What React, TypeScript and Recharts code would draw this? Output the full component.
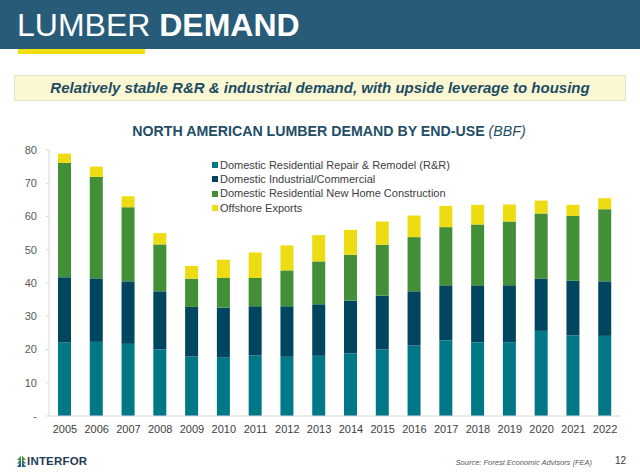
import React from 'react';
import { BarChart, Bar, XAxis, YAxis } from 'recharts';

const years = ['2005', '2006', '2007', '2008', '2009', '2010', '2011', '2012', '2013', '2014', '2015', '2016', '2017', '2018', '2019', '2020', '2021', '2022'];
const repairRemodel = [22.1, 22.3, 21.7, 20.0, 17.9, 17.7, 18.2, 17.8, 18.1, 18.8, 20.0, 21.2, 22.8, 22.2, 22.2, 25.6, 24.3, 24.1];
const industrial = [19.6, 19.1, 18.8, 17.5, 14.9, 14.9, 14.8, 15.2, 15.5, 15.9, 16.2, 16.3, 16.5, 17.1, 17.1, 15.7, 16.4, 16.4];
const newHome = [34.4, 30.5, 22.3, 14.1, 8.5, 8.9, 8.5, 10.8, 12.9, 13.8, 15.3, 16.3, 17.5, 18.3, 19.2, 19.6, 19.5, 21.7];
const exportsOffshore = [2.8, 3.1, 3.3, 3.4, 3.8, 5.5, 7.7, 7.5, 7.9, 7.5, 7.0, 6.5, 6.4, 5.9, 5.1, 3.9, 3.3, 3.3];
const yTicks = [0, 10, 20, 30, 40, 50, 60, 70, 80];

const series = [
  { key: 'rr', name: 'Domestic Residential Repair & Remodel (R&R)', color: '#007888' },
  { key: 'ind', name: 'Domestic Industrial/Commercial', color: '#00465f' },
  { key: 'home', name: 'Domestic Residential New Home Construction', color: '#428f37' },
  { key: 'exp', name: 'Offshore Exports', color: '#eedc12' },
];

const data = years.map((year, i) => ({
  year,
  rr: repairRemodel[i],
  ind: industrial[i],
  home: newHome[i],
  exp: exportsOffshore[i],
}));

const FONT = '"Liberation Sans", Arial, sans-serif';

const TreeIcon = () => (
  <svg width={9} height={12} viewBox="0 0 9 12" style={{ display: 'block' }}>
    <polygon points="4.5,0 9,5 0,5" fill="#4a9a3c" />
    <polygon points="4.5,3 9,8.5 0,8.5" fill="#2e7d5b" />
    <polygon points="4.5,6 9,12 0,12" fill="#1f5f7a" />
    <rect x={4} y={0} width={1} height={12} fill="#ffffff" />
  </svg>
);

export default function App() {
  return (
    <div style={{ position: 'absolute', left: 0, top: 0, width: 640, height: 476, background: '#ffffff', overflow: 'hidden', fontFamily: FONT }}>
      {/* header */}
      <div style={{ position: 'absolute', left: 0, top: 0, width: 640, height: 49, background: '#285b78' }} />
      <div style={{ position: 'absolute', left: 17, top: 6, fontSize: 32, color: '#ffffff', lineHeight: '38px', whiteSpace: 'nowrap' }}>
        LUMBER <span style={{ fontWeight: 'bold' }}>DEMAND</span>
      </div>
      <div style={{ position: 'absolute', left: 18, top: 49, width: 127, height: 5, background: '#efdf10' }} />

      {/* key message box */}
      <div
        style={{
          position: 'absolute', left: 14, top: 75, width: 612, height: 26, boxSizing: 'border-box',
          background: '#fcf7d3', border: '1px solid #e6e2c6', color: '#1c4d63',
          fontSize: 15, fontWeight: 'bold', fontStyle: 'italic', textAlign: 'center', lineHeight: '24px', whiteSpace: 'nowrap',
        }}
      >
        Relatively stable R&amp;R &amp; industrial demand, with upside leverage to housing
      </div>

      {/* chart title */}
      <div style={{ position: 'absolute', left: 0, top: 123, width: 658, textAlign: 'center', fontSize: 14.2, fontWeight: 'bold', color: '#1f4e66', whiteSpace: 'nowrap' }}>
        NORTH AMERICAN LUMBER DEMAND BY END-USE <span style={{ fontWeight: 'normal', fontStyle: 'italic' }}>(BBF)</span>
      </div>

      <div style={{ position: 'absolute', left: 0, top: 0 }}>
        <BarChart width={640} height={476} data={data} margin={{ top: 150, right: 19, bottom: 30, left: 0 }} barSize={13}>
          <XAxis
            dataKey="year"
            axisLine={{ stroke: '#d9d9d9' }}
            tickLine={false}
            tickSize={6}
            tickMargin={3}
            height={30}
            interval={0}
            tick={{ fill: '#404040', fontSize: 11, fontFamily: FONT }}
          />
          <YAxis
            domain={[0, 80]}
            ticks={yTicks}
            width={49}
            axisLine={{ stroke: '#d9d9d9' }}
            tickLine={{ stroke: '#d9d9d9' }}
            tickSize={3}
            tickMargin={9}
            tickFormatter={(v: number) => (v === 0 ? '-' : String(v))}
            tick={{ fill: '#595959', fontSize: 11, fontFamily: FONT }}
          />
          {series.map((s) => (
            <Bar key={s.key} dataKey={s.key} name={s.name} stackId="a" fill={s.color} isAnimationActive={false} />
          ))}
        </BarChart>
      </div>

      {/* legend, same order as the stack */}
      <div style={{ position: 'absolute', left: 212, top: 158, fontSize: 11, color: '#404040', lineHeight: '14.2px' }}>
        {series.map((s) => (
          <div key={s.key} style={{ display: 'flex', alignItems: 'center', whiteSpace: 'nowrap' }}>
            <span style={{ width: 6, height: 6, background: s.color, marginRight: 2, display: 'inline-block' }} />
            {s.name}
          </div>
        ))}
      </div>

      {/* footer */}
      <div style={{ position: 'absolute', left: 17, top: 455, display: 'flex', alignItems: 'center' }}>
        <TreeIcon />
        <span style={{ marginLeft: 1, fontSize: 11.5, fontWeight: 'bold', color: '#1f3b57', letterSpacing: 0.2 }}>INTERFOR</span>
      </div>
      <div style={{ position: 'absolute', right: 48, top: 458, fontSize: 7.5, fontStyle: 'italic', color: '#595959', whiteSpace: 'nowrap' }}>
        Source: Forest Economic Advisors (FEA)
      </div>
      <div style={{ position: 'absolute', left: 615, top: 455, fontSize: 10, color: '#404040' }}>12</div>
    </div>
  );
}
